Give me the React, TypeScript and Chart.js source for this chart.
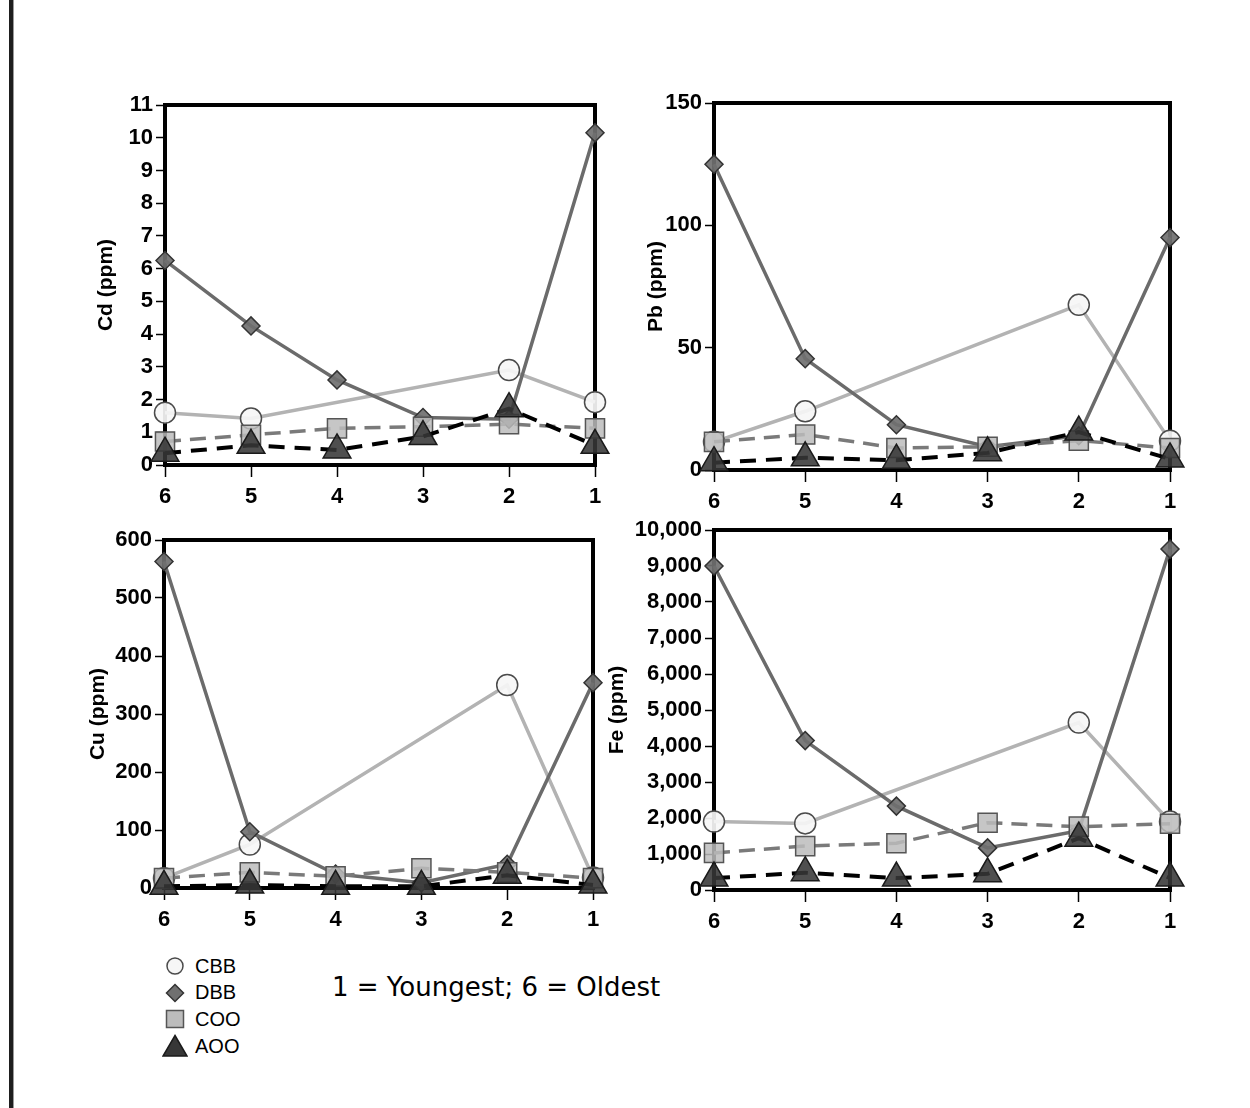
import React, { useEffect, useRef } from "react";
import { Chart, registerables } from "chart.js";

Chart.register(...registerables);

// ---- data ----
const categories = ["6", "5", "4", "3", "2", "1"];

const cdCBB = [1.6, 1.42, null, null, 2.9, 1.92];
const cdDBB = [6.25, 4.25, 2.6, 1.45, 1.4, 10.15];
const cdCOO = [0.72, 0.92, 1.12, 1.17, 1.25, 1.12];
const cdAOO = [0.36, 0.6, 0.46, 0.87, 1.72, 0.6];

const pbCBB = [11.5, 24, null, null, 67.5, 12];
const pbDBB = [125, 45.5, 18.5, 9.5, 14, 95];
const pbCOO = [11.5, 14.5, 9, 9.5, 12, 9];
const pbAOO = [3, 5, 4, 7, 15.5, 4.5];

const cuCBB = [17, 75, null, null, 350, 18];
const cuDBB = [563, 97, 24, 9, 41, 354];
const cuCOO = [17, 27, 20, 34, 27, 17];
const cuAOO = [3, 5, 3, 3, 22, 5];

const feCBB = [1900, 1850, null, null, 4650, 1900];
const feDBB = [9000, 4150, 2330, 1170, 1650, 9470];
const feCOO = [1030, 1220, 1300, 1870, 1760, 1840];
const feAOO = [330, 480, 330, 450, 1440, 330];

const yTitles = ["Cd (ppm)", "Pb (ppm)", "Cu (ppm)", "Fe (ppm)"];
const yMax = [11, 150, 600, 10000];
const yStep = [1, 50, 100, 1000];

const legendLabels = ["CBB", "DBB", "COO", "AOO"];
const noteText = "1 = Youngest; 6 = Oldest";

// ---- layout (pixel placement of each panel's plot area) ----
const layouts = [
  { l: 165, r: 595, t: 105, b: 465, titleX: 106 },
  { l: 714, r: 1170, t: 103, b: 470, titleX: 656 },
  { l: 164, r: 593, t: 540, b: 888, titleX: 98 },
  { l: 714, r: 1170, t: 530, b: 890, titleX: 617 },
];
const Y_AXIS_W = 110;
const X_AXIS_H = 60;
const PAD_TOP = 20;
const PAD_RIGHT = 40;

const panelData = [
  [cdCBB, cdDBB, cdCOO, cdAOO],
  [pbCBB, pbDBB, pbCOO, pbAOO],
  [cuCBB, cuDBB, cuCOO, cuAOO],
  [feCBB, feDBB, feCOO, feAOO],
];

const FONT = "'Liberation Sans', Arial, Helvetica, sans-serif";
const TICK_SIZE = 22;
const TITLE_SIZE = 21;

const framePlugin = {
  id: "frame",
  beforeDatasetsDraw(chart: any) {
    const { ctx, chartArea } = chart;
    const { left, top, right, bottom } = chartArea;
    ctx.save();
    ctx.strokeStyle = "#000";
    ctx.lineWidth = 4;
    ctx.lineJoin = "miter";
    ctx.strokeRect(left, top, right - left, bottom - top);
    ctx.restore();
  },
};

const seriesStyles = [
  {
    borderColor: "#b3b3b3",
    borderWidth: 3.5,
    pointStyle: "circle",
    pointRadius: 10.5,
    pointBackgroundColor: "rgba(246,246,246,0.92)",
    pointBorderColor: "#4a4a4a",
    pointBorderWidth: 1.5,
    order: 4,
  },
  {
    borderColor: "#6b6b6b",
    borderWidth: 3.5,
    pointStyle: "rectRot",
    pointRadius: 9,
    pointBackgroundColor: "rgba(112,112,112,0.92)",
    pointBorderColor: "#333",
    pointBorderWidth: 1.5,
    order: 3,
  },
  {
    borderColor: "#7a7a7a",
    borderWidth: 3.5,
    borderDash: [16, 9],
    pointStyle: "rect",
    pointRadius: 13.5,
    pointBackgroundColor: "rgba(188,188,188,0.85)",
    pointBorderColor: "#555",
    pointBorderWidth: 1.5,
    order: 2,
  },
  {
    borderColor: "#000",
    borderWidth: 4,
    borderDash: [16, 10],
    pointStyle: "triangle",
    pointRadius: 16,
    pointBackgroundColor: "rgba(55,55,55,0.88)",
    pointBorderColor: "#1a1a1a",
    pointBorderWidth: 1.5,
    order: 1,
  },
];

function Panel({ idx }: { idx: number }) {
  const ref = useRef<HTMLCanvasElement | null>(null);
  const lay = layouts[idx];
  const width = lay.r - lay.l + Y_AXIS_W + PAD_RIGHT;
  const height = lay.b - lay.t + PAD_TOP + X_AXIS_H;
  const left = lay.l - Y_AXIS_W;
  const top = lay.t - PAD_TOP;
  const titleLineH = TITLE_SIZE * 1.2;
  const titlePad = lay.titleX - left - titleLineH / 2;

  useEffect(() => {
    if (!ref.current) return;
    const datasets = panelData[idx].map((vals, i) => ({
      label: legendLabels[i],
      data: vals,
      spanGaps: true,
      tension: 0,
      clip: false,
      fill: false,
      ...seriesStyles[i],
    }));
    const chart = new Chart(ref.current, {
      type: "line",
      data: { labels: categories, datasets: datasets as any },
      options: {
        animation: false,
        responsive: false,
        locale: "en-US",
        events: [],
        layout: { padding: { top: PAD_TOP, right: PAD_RIGHT, left: 0, bottom: 0 } },
        plugins: { legend: { display: false }, tooltip: { enabled: false } },
        scales: {
          x: {
            type: "category",
            offset: false,
            grid: {
              drawOnChartArea: false,
              drawTicks: true,
              tickLength: 12,
              tickWidth: 1.5,
              tickColor: "#000",
            },
            border: { display: false },
            ticks: {
              color: "#000",
              font: { family: FONT, size: TICK_SIZE, weight: "bold" },
              padding: 7,
              maxRotation: 0,
              autoSkip: false,
            },
            afterFit: (s: any) => {
              s.height = X_AXIS_H;
            },
          },
          y: {
            min: 0,
            max: yMax[idx],
            ticks: {
              stepSize: yStep[idx],
              color: "#000",
              font: { family: FONT, size: TICK_SIZE, weight: "bold" },
              padding: 3,
              autoSkip: false,
            },
            title: {
              display: true,
              text: yTitles[idx],
              color: "#000",
              font: { family: FONT, size: TITLE_SIZE, weight: "bold" },
              padding: { top: titlePad, bottom: 0 },
            },
            grid: {
              drawOnChartArea: false,
              drawTicks: true,
              tickLength: 9,
              tickWidth: 1.5,
              tickColor: "#000",
            },
            border: { display: false },
            afterFit: (s: any) => {
              s.width = Y_AXIS_W;
            },
          },
        },
      } as any,
      plugins: [framePlugin],
    });
    return () => chart.destroy();
  }, [idx]);

  return (
    <canvas
      ref={ref}
      width={width}
      height={height}
      style={{ position: "absolute", left, top, width, height }}
    />
  );
}

function LegendSymbol({ i }: { i: number }) {
  const s = 26;
  const c = s / 2;
  if (i === 0)
    return (
      <svg width={s} height={s}>
        <circle cx={c} cy={c} r={8} fill="#f6f6f6" stroke="#4a4a4a" strokeWidth={1.5} />
      </svg>
    );
  if (i === 1)
    return (
      <svg width={s} height={s}>
        <polygon
          points={`${c},${c - 8.5} ${c + 8.5},${c} ${c},${c + 8.5} ${c - 8.5},${c}`}
          fill="#707070"
          stroke="#333"
          strokeWidth={1.5}
        />
      </svg>
    );
  if (i === 2)
    return (
      <svg width={s} height={s}>
        <rect x={c - 8.5} y={c - 8.5} width={17} height={17} fill="#bcbcbc" stroke="#555" strokeWidth={1.5} />
      </svg>
    );
  return (
    <svg width={s} height={s}>
      <polygon
        points={`${c},${c - 10.5} ${c + 12},${c + 10} ${c - 12},${c + 10}`}
        fill="#373737"
        stroke="#1a1a1a"
        strokeWidth={1.5}
      />
    </svg>
  );
}

export default function App() {
  return (
    <div
      style={{
        position: "absolute",
        left: 0,
        top: 0,
        width: 1250,
        height: 1108,
        background: "#fff",
        overflow: "hidden",
      }}
    >
      <div
        style={{
          position: "absolute",
          left: 9,
          top: 0,
          width: 4,
          height: 1108,
          background: "#1e1e1e",
          borderRight: "1px solid #9a9a9a",
        }}
      />
      {layouts.map((_, i) => (
        <Panel key={i} idx={i} />
      ))}
      <div style={{ position: "absolute", left: 162, top: 953 }}>
        {legendLabels.map((lab, i) => (
          <div
            key={lab}
            style={{
              display: "flex",
              alignItems: "center",
              height: 26.6,
              fontFamily: FONT,
              fontSize: 20,
              color: "#000",
            }}
          >
            <LegendSymbol i={i} />
            <span style={{ marginLeft: 7 }}>{lab}</span>
          </div>
        ))}
      </div>
      <div
        style={{
          position: "absolute",
          left: 332,
          top: 971,
          fontFamily: "'DejaVu Sans', Verdana, sans-serif",
          fontSize: 26,
          color: "#000",
          whiteSpace: "nowrap",
          lineHeight: "32px",
        }}
      >
        {noteText}
      </div>
    </div>
  );
}
